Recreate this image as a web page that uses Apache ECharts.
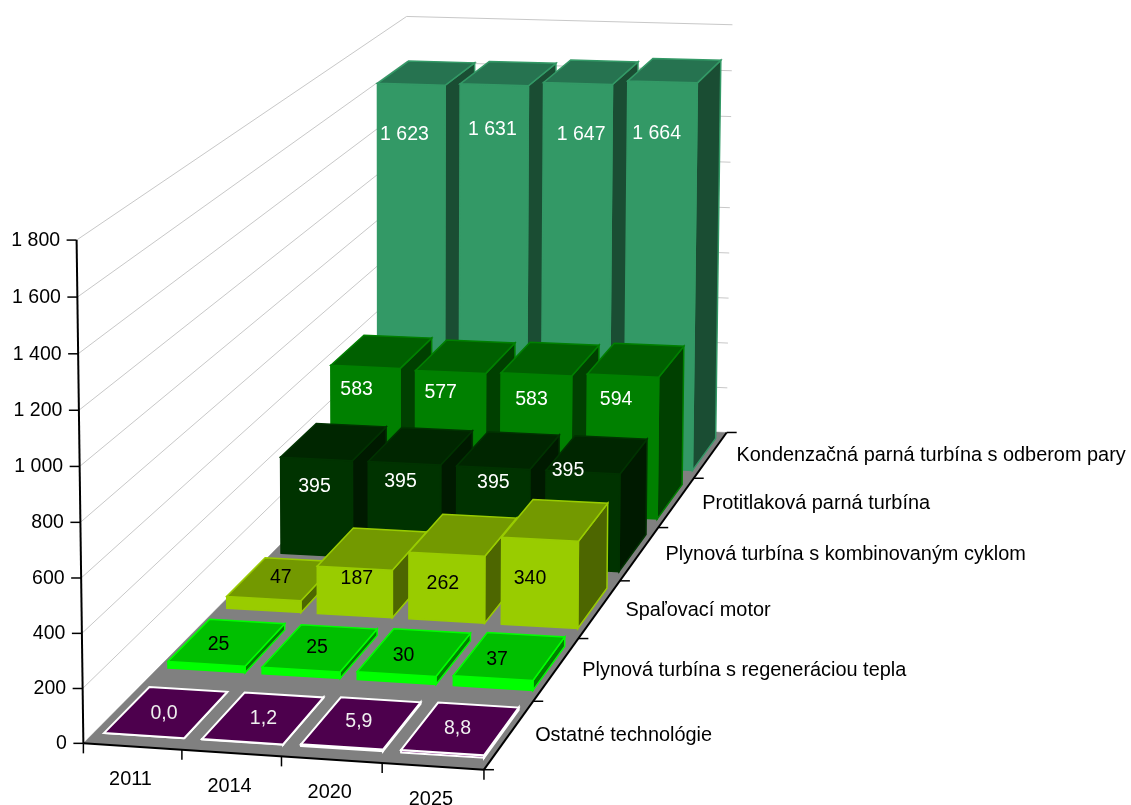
<!DOCTYPE html>
<html><head><meta charset="utf-8">
<style>html,body{margin:0;padding:0;background:#fff}#c{width:1131px;height:805px}</style>
<script src="https://cdn.jsdelivr.net/npm/echarts@6/dist/echarts.min.js"></script>
</head><body><div id="c"></div>
<script>
const years = ['2011','2014','2020','2025'];
const technologies = ['Ostatné technológie','Plynová turbína s regeneráciou tepla','Spaľovací motor','Plynová turbína s kombinovaným cyklom','Protitlaková parná turbína','Kondenzačná parná turbína s odberom pary'];
const ostatne = [0.0,1.2,5.9,8.8];
const regeneracia = [25,25,30,37];
const spalovaci = [47,187,262,340];
const kombinovany = [395,395,395,395];
const protitlak = [583,577,583,594];
const kondenzacna = [1623,1631,1647,1664];
const valueTicks = [0,200,400,600,800,1000,1200,1400,1600,1800];
const valueMax = 1800;

// Styling per depth row (front face, top, side, outline, label colour, decimals)
const rowStyles = [
  {front:'#660066',top:'#4D004D',side:'#33003D',edge:'#FFFFFF',text:'#F0F0F0',dec:1},
  {front:'#00FF00',top:'#00BF00',side:'#008000',edge:'#00FF00',text:'#000000',dec:0},
  {front:'#99CC00',top:'#739900',side:'#4D6600',edge:'#99CC00',text:'#000000',dec:0},
  {front:'#003300',top:'#002600',side:'#001A00',edge:'#003300',text:'#FFFFFF',dec:0},
  {front:'#008000',top:'#006000',side:'#004000',edge:'#008000',text:'#FFFFFF',dec:0},
  {front:'#339966',top:'#267350',side:'#1A4D33',edge:'#339966',text:'#FFFFFF',dec:0}
];
const rowValues = [ostatne,regeneracia,spalovaci,kombinovany,protitlak,kondenzacna];
// Label nudges in pixels from the centre of the bar's front top edge (Excel's manual placement)
const labelNudges = [
  [[21,-22],[22,-23],[18,-25],[16,-24]],
  [[13,-19],[17,-22],[8,-18],[5,-18]],
  [[18,-21],[3,10],[-3,29],[-9,39]],
  [[-1,28],[-3,18],[1,15],[-14,-1]],
  [[-8,23],[-9,21],[-4,25],[-6,24]],
  [[-6,50],[-1,45],[4,51],[-5,52]]
];

// Camera calibration: scene point (column, row, value share) -> picture point
const calibration = [
  [0,0,0,85,742],[1,0,0,182,749.5],[2,0,0,282,757],[3,0,0,382,764],[4,0,0,483,771],
  [4,1,0,533,703],[4,2,0,577,638],[4,3,0,620,581],[4,4,0,659,526],[4,5,0,695,476],[4,6,0,727,431],
  [0,0,1,75,240],[0,0,1/3,82,577],[0,0,2/3,79,410],
  [0,6,1,408,14.7],[4,6,1,732,27],[0,6,0,404,421]
];
function solveCamera(pts){
  const n=11, A=Array.from({length:n},()=>new Array(n+1).fill(0));
  const add=(r,b)=>{for(let i=0;i<n;i++){for(let j=0;j<n;j++)A[i][j]+=r[i]*r[j];A[i][n]+=r[i]*b;}};
  pts.forEach(([X,Y,Z,px,py])=>{
    const u=px/1000,v=py/1000;
    add([X,Y,Z,1,0,0,0,0,-u*X,-u*Y,-u*Z],u);
    add([0,0,0,0,X,Y,Z,1,-v*X,-v*Y,-v*Z],v);
  });
  for(let i=0;i<n;i++){
    let p=i;for(let k=i+1;k<n;k++)if(Math.abs(A[k][i])>Math.abs(A[p][i]))p=k;
    [A[i],A[p]]=[A[p],A[i]];
    for(let k=0;k<n;k++){if(k===i)continue;const f=A[k][i]/A[i][i];for(let j=i;j<=n;j++)A[k][j]-=f*A[i][j];}
  }
  return A.map((r,i)=>r[n]/r[i]);
}
const m=solveCamera(calibration);
function project(X,Y,Z){
  const w=m[8]*X+m[9]*Y+m[10]*Z+1;
  return [1000*(m[0]*X+m[1]*Y+m[2]*Z+m[3])/w,1000*(m[4]*X+m[5]*Y+m[6]*Z+m[7])/w];
}
const FONT_AXIS='19.9px "Liberation Sans", Arial, sans-serif';
const FONT_NUM='19.5px "Liberation Sans", Arial, sans-serif';
const LEFT_W=0.40, RIGHT_W=0.42, ROW_FROM=0.16, ROW_TO=0.86;
const fmt=(v,dec)=>dec?v.toFixed(dec).replace('.',','):String(v).replace(/\B(?=(\d{3})+$)/g,'\u00A0');
const line=(a,b,stroke,lineWidth)=>({type:'line',shape:{x1:a[0],y1:a[1],x2:b[0],y2:b[1]},style:{stroke,lineWidth},silent:true});
const label=(x,y,text,fill,align,font)=>({type:'text',style:{x,y,text,fill,font:font||FONT_AXIS,align:align||'center',verticalAlign:'middle'},silent:true});
const poly=(points,fill,stroke,lineWidth)=>({type:'polygon',shape:{points},style:{fill,stroke,lineWidth,lineJoin:'miter'},silent:true});

function renderFrame(){
  const ch=[], cols=years.length, rows=technologies.length;
  const GRID='#C8C8C8';
  valueTicks.forEach(t=>{
    const z=t/valueMax;
    const a=project(0,0,z),b=project(0,rows,z),c=project(cols,rows,z);
    ch.push(line(a,b,GRID,1),line(b,c,GRID,1));
  });
  ch.push(poly([project(0,0,0),project(cols,0,0),project(cols,rows,0),project(0,rows,0)],'#808080',null,0));
  ch.push(line(project(0,0,0),project(0,0,1),'#000',2));
  ch.push(line(project(0,0,0),project(cols,0,0),'#000',2));
  ch.push(line(project(cols,0,0),project(cols,rows,0),'#000',2));
  valueTicks.forEach(t=>{
    const p=project(0,0,t/valueMax);
    ch.push(line([p[0]-10,p[1]],p,'#000',1.5));
    ch.push(label(p[0]-16.5,p[1]+0.5,fmt(t,0),'#000','right',FONT_NUM));
  });
  for(let i=0;i<=cols;i++){
    const p=project(i,0,0);
    ch.push(line(p,[p[0],p[1]+10],'#000',1.5));
    if(i<cols){const q=project(i+0.5,0,0);ch.push(label(q[0]-2,q[1]+33,years[i],'#000'));}
  }
  for(let j=0;j<=rows;j++){
    const p=project(cols,j,0);
    ch.push(line(p,[p[0]+10,p[1]],'#000',1.5));
    if(j<rows){const q=project(cols,j+0.5,0);ch.push(label(q[0]+26,q[1]+1,technologies[j],'#000','left'));}
  }
  return {type:'group',children:ch};
}

function renderBar(row,params,api){
  const cs=params.coordSys;
  const c=api.coord([api.value(0),api.value(1)]);
  const X=(c[0]-cs.x)/cs.width*years.length;
  const share=(cs.y+cs.height-c[1])/cs.height;
  const x0=X-LEFT_W,x1=X+RIGHT_W,d0=row+ROW_FROM,d1=row+ROW_TO,st=rowStyles[row];
  const fb=[project(x0,d0,0),project(x1,d0,0),project(x1,d0,share),project(x0,d0,share)];
  const side=[project(x1,d0,0),project(x1,d1,0),project(x1,d1,share),project(x1,d0,share)];
  const top=[project(x0,d0,share),project(x1,d0,share),project(x1,d1,share),project(x0,d1,share)];
  const a=project(X,d0,share), n=labelNudges[row][params.dataIndex];
  const sw=row===0?2:1.5;
  return {type:'group',children:[
    poly(side,st.side,st.edge,sw),
    poly(fb,st.front,st.edge,sw),
    poly(top,st.top,st.edge,sw),
    label(a[0]+n[0],a[1]+n[1],fmt(api.value(1),st.dec),st.text,'center',FONT_NUM)
  ]};
}

const series=[{type:'custom',name:'frame',silent:true,clip:false,data:[[years[0],0]],encode:{x:0,y:1},renderItem:renderFrame}];
for(let r=technologies.length-1;r>=0;r--){
  series.push({type:'custom',name:technologies[r],silent:true,clip:false,
    data:years.map((y,i)=>[y,rowValues[r][i]]),encode:{x:0,y:1},
    renderItem:(p,a)=>renderBar(r,p,a)});
}
const chart=echarts.init(document.getElementById('c'),null,{renderer:'canvas'});
chart.setOption({
  animation:false,backgroundColor:'#fff',
  grid:{left:100,right:100,top:100,bottom:100},
  xAxis:{type:'category',data:years,show:false},
  yAxis:{type:'value',min:0,max:valueMax,show:false},
  series
});
</script></body></html>
